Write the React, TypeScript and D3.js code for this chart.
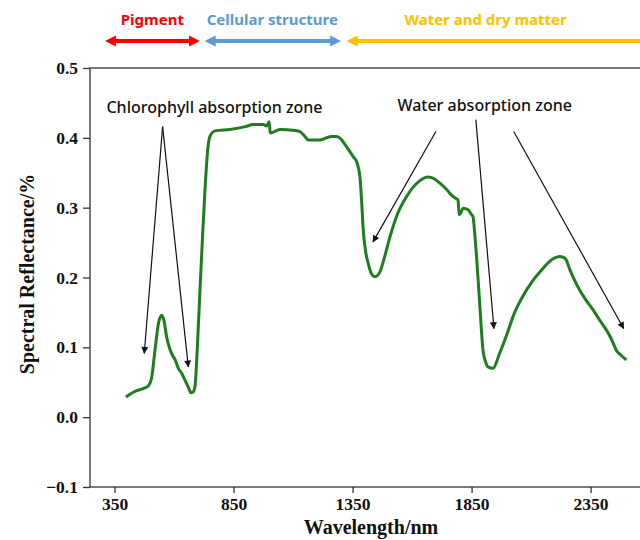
import * as d3 from "d3";
import { useEffect, useRef } from "react";

// spectrum (nm, reflectance)
const wavelength = [
  398, 436, 470, 490, 505, 520, 535, 548, 558, 569, 582, 593, 605, 618, 632, 646, 660, 671, 680, 688,
  698, 709, 720, 730, 742, 751, 772, 835, 900, 933, 975, 989, 1000, 1004, 1045, 1100, 1129, 1150, 1164,
  1213, 1260, 1283, 1297, 1325, 1355, 1367, 1376, 1381, 1388, 1395, 1405, 1416, 1430, 1444, 1465, 1485,
  1507, 1540, 1577, 1620, 1667, 1690, 1717, 1745, 1772, 1785, 1793, 1798, 1804, 1814, 1835, 1850, 1856,
  1864, 1871, 1885, 1898, 1910, 1919, 1940, 1968, 2000, 2024, 2060, 2108, 2150, 2178, 2200, 2220, 2235,
  2248, 2262, 2276, 2304, 2330, 2360, 2390, 2416, 2440, 2458, 2480, 2500,
];
const reflectance = [
  0.029, 0.037, 0.041, 0.044, 0.055, 0.096, 0.135, 0.146, 0.138, 0.115, 0.098, 0.089, 0.082, 0.07, 0.063,
  0.053, 0.043, 0.035, 0.036, 0.044, 0.1, 0.182, 0.26, 0.325, 0.385, 0.402, 0.41, 0.412, 0.416, 0.419,
  0.419, 0.417, 0.423, 0.407, 0.412, 0.411, 0.409, 0.402, 0.397, 0.397, 0.402, 0.402, 0.3995, 0.387, 0.372,
  0.366, 0.355, 0.344, 0.31, 0.268, 0.237, 0.22, 0.205, 0.201, 0.208, 0.23, 0.258, 0.292, 0.316, 0.335,
  0.344, 0.342, 0.335, 0.326, 0.316, 0.313, 0.311, 0.29, 0.292, 0.299, 0.297, 0.29, 0.287, 0.26, 0.23,
  0.158, 0.096, 0.078, 0.072, 0.07, 0.0915, 0.12, 0.144, 0.17, 0.196, 0.213, 0.223, 0.228, 0.23, 0.229,
  0.225, 0.212, 0.201, 0.182, 0.168, 0.154, 0.138, 0.125, 0.11, 0.096, 0.088, 0.082,
];

const xTicks = [350, 850, 1350, 1850, 2350];
const yTicks = [-0.1, 0, 0.1, 0.2, 0.3, 0.4, 0.5];

// wavelength ranges of the zones on top
const zoneNames = ["Pigment", "Cellular structure", "Water and dry matter"];
const zoneStart = [303, 722, 1318];
const zoneEnd = [715, 1309, 2650];
const zoneLabelAt = [509, 1013, 1909];
const zoneColors = ["#ff0000", "#5b9bd5", "#ffc000"];

// annotation labels and arrows (data coordinates)
const noteLabels = ["Chlorophyll absorption zone", "Water absorption zone"];
const noteLabelW = [770, 1905];
const noteLabelV = [0.444, 0.447];
const arrowFromW = [552, 552, 1700, 1868, 2027];
const arrowFromV = [0.416, 0.416, 0.409, 0.426, 0.409];
const arrowToW = [475, 660, 1436, 1944, 2489];
const arrowToV = [0.0915, 0.072, 0.251, 0.127, 0.127];

export default function App() {
  const svgRef = useRef<SVGSVGElement | null>(null);

  useEffect(() => {
    if (!svgRef.current) return;
    const svg = d3.select(svgRef.current);
    svg.selectAll("*").remove();

    const width = 640;
    const height = 540;
    const left = 90;
    const top = 68;
    const bottom = 487;
    const right = 662;

    const x = d3.scaleLinear().domain([247, 2650]).range([left, right]);
    const y = d3.scaleLinear().domain([-0.1, 0.5]).range([bottom, top]);

    svg.attr("width", width).attr("height", height);

    const defs = svg.append("defs");
    defs
      .append("marker")
      .attr("id", "blk")
      .attr("viewBox", "0 0 10 10")
      .attr("refX", 9)
      .attr("refY", 5)
      .attr("markerUnits", "userSpaceOnUse")
      .attr("markerWidth", 8)
      .attr("markerHeight", 7)
      .attr("orient", "auto")
      .append("path")
      .attr("d", "M0,0 L10,5 L0,10 z")
      .attr("fill", "#111");

    zoneColors.forEach((c, i) => {
      defs
        .append("marker")
        .attr("id", `zone${i}`)
        .attr("viewBox", "0 0 10 10")
        .attr("refX", 6)
        .attr("refY", 5)
        .attr("markerUnits", "userSpaceOnUse")
        .attr("markerWidth", 11)
        .attr("markerHeight", 13)
        .attr("orient", "auto-start-reverse")
        .append("path")
        .attr("d", "M0,0 L10,5 L0,10 z")
        .attr("fill", c);
    });

    // frame
    svg
      .append("rect")
      .attr("x", left)
      .attr("y", top)
      .attr("width", right - left)
      .attr("height", bottom - top)
      .attr("fill", "none")
      .attr("stroke", "#333")
      .attr("stroke-width", 1.3);

    const serif = "'Liberation Serif', 'Times New Roman', serif";
    const sans = "'Noto Sans', 'Open Sans', sans-serif";

    const yAxis = svg
      .append("g")
      .attr("transform", `translate(${left},0)`)
      .call(d3.axisLeft(y).tickValues(yTicks).tickSize(7).tickPadding(5).tickFormat(d3.format(".1f")) as any);
    const xAxis = svg
      .append("g")
      .attr("transform", `translate(0,${bottom})`)
      .call(d3.axisBottom(x).tickValues(xTicks).tickSize(6).tickPadding(5).tickFormat(d3.format("d")) as any);

    [xAxis, yAxis].forEach((g) => {
      g.select(".domain").remove();
      g.selectAll("line").attr("stroke", "#333").attr("stroke-width", 1.3);
      g.selectAll("text")
        .attr("fill", "#111")
        .attr("font-family", serif)
        .attr("font-weight", "bold")
        .attr("font-size", 17.5);
    });

    svg
      .append("text")
      .attr("transform", `translate(27,274) rotate(-90)`)
      .attr("text-anchor", "middle")
      .attr("dominant-baseline", "central")
      .attr("font-family", serif)
      .attr("font-weight", "bold")
      .attr("font-size", 20)
      .attr("fill", "#111")
      .text("Spectral Reflectance/%");

    svg
      .append("text")
      .attr("x", 371)
      .attr("y", 534)
      .attr("text-anchor", "middle")
      .attr("font-family", serif)
      .attr("font-weight", "bold")
      .attr("font-size", 20)
      .attr("fill", "#111")
      .text("Wavelength/nm");

    // spectrum
    const pts = wavelength.map((w, i) => [w, reflectance[i]] as [number, number]);
    const line = d3
      .line<[number, number]>()
      .x((d) => x(d[0]))
      .y((d) => y(d[1]))
      .curve(d3.curveMonotoneX);
    svg
      .append("path")
      .datum(pts)
      .attr("fill", "none")
      .attr("stroke", "#1e7d1e")
      .attr("stroke-width", 3)
      .attr("stroke-linejoin", "round")
      .attr("d", line);

    // annotations
    arrowFromW.forEach((w, i) => {
      svg
        .append("line")
        .attr("x1", x(w))
        .attr("y1", y(arrowFromV[i]))
        .attr("x2", x(arrowToW[i]))
        .attr("y2", y(arrowToV[i]))
        .attr("stroke", "#111")
        .attr("stroke-width", 1.2)
        .attr("marker-end", "url(#blk)");
    });
    noteLabels.forEach((t, i) => {
      svg
        .append("text")
        .attr("x", x(noteLabelW[i]))
        .attr("y", y(noteLabelV[i]))
        .attr("text-anchor", "middle")
        .attr("dominant-baseline", "central")
        .attr("font-family", sans)
        .attr("font-weight", 500)
        .attr("font-size", 16)
        .attr("fill", "#111")
        .text(t);
    });

    // zones on top
    zoneNames.forEach((t, i) => {
      svg
        .append("line")
        .attr("x1", x(zoneStart[i]) + 6)
        .attr("x2", x(zoneEnd[i]) - 6)
        .attr("y1", 41)
        .attr("y2", 41)
        .attr("stroke", zoneColors[i])
        .attr("stroke-width", 4)
        .attr("marker-start", `url(#zone${i})`)
        .attr("marker-end", `url(#zone${i})`);
      svg
        .append("text")
        .attr("x", x(zoneLabelAt[i]))
        .attr("y", 19)
        .attr("text-anchor", "middle")
        .attr("dominant-baseline", "central")
        .attr("font-family", sans)
        .attr("font-weight", "bold")
        .attr("font-size", 15)
        .attr("fill", zoneColors[i])
        .text(t);
    });
  }, []);

  return <svg ref={svgRef} style={{ position: "absolute", left: 0, top: 0, background: "#fff" }} />;
}
